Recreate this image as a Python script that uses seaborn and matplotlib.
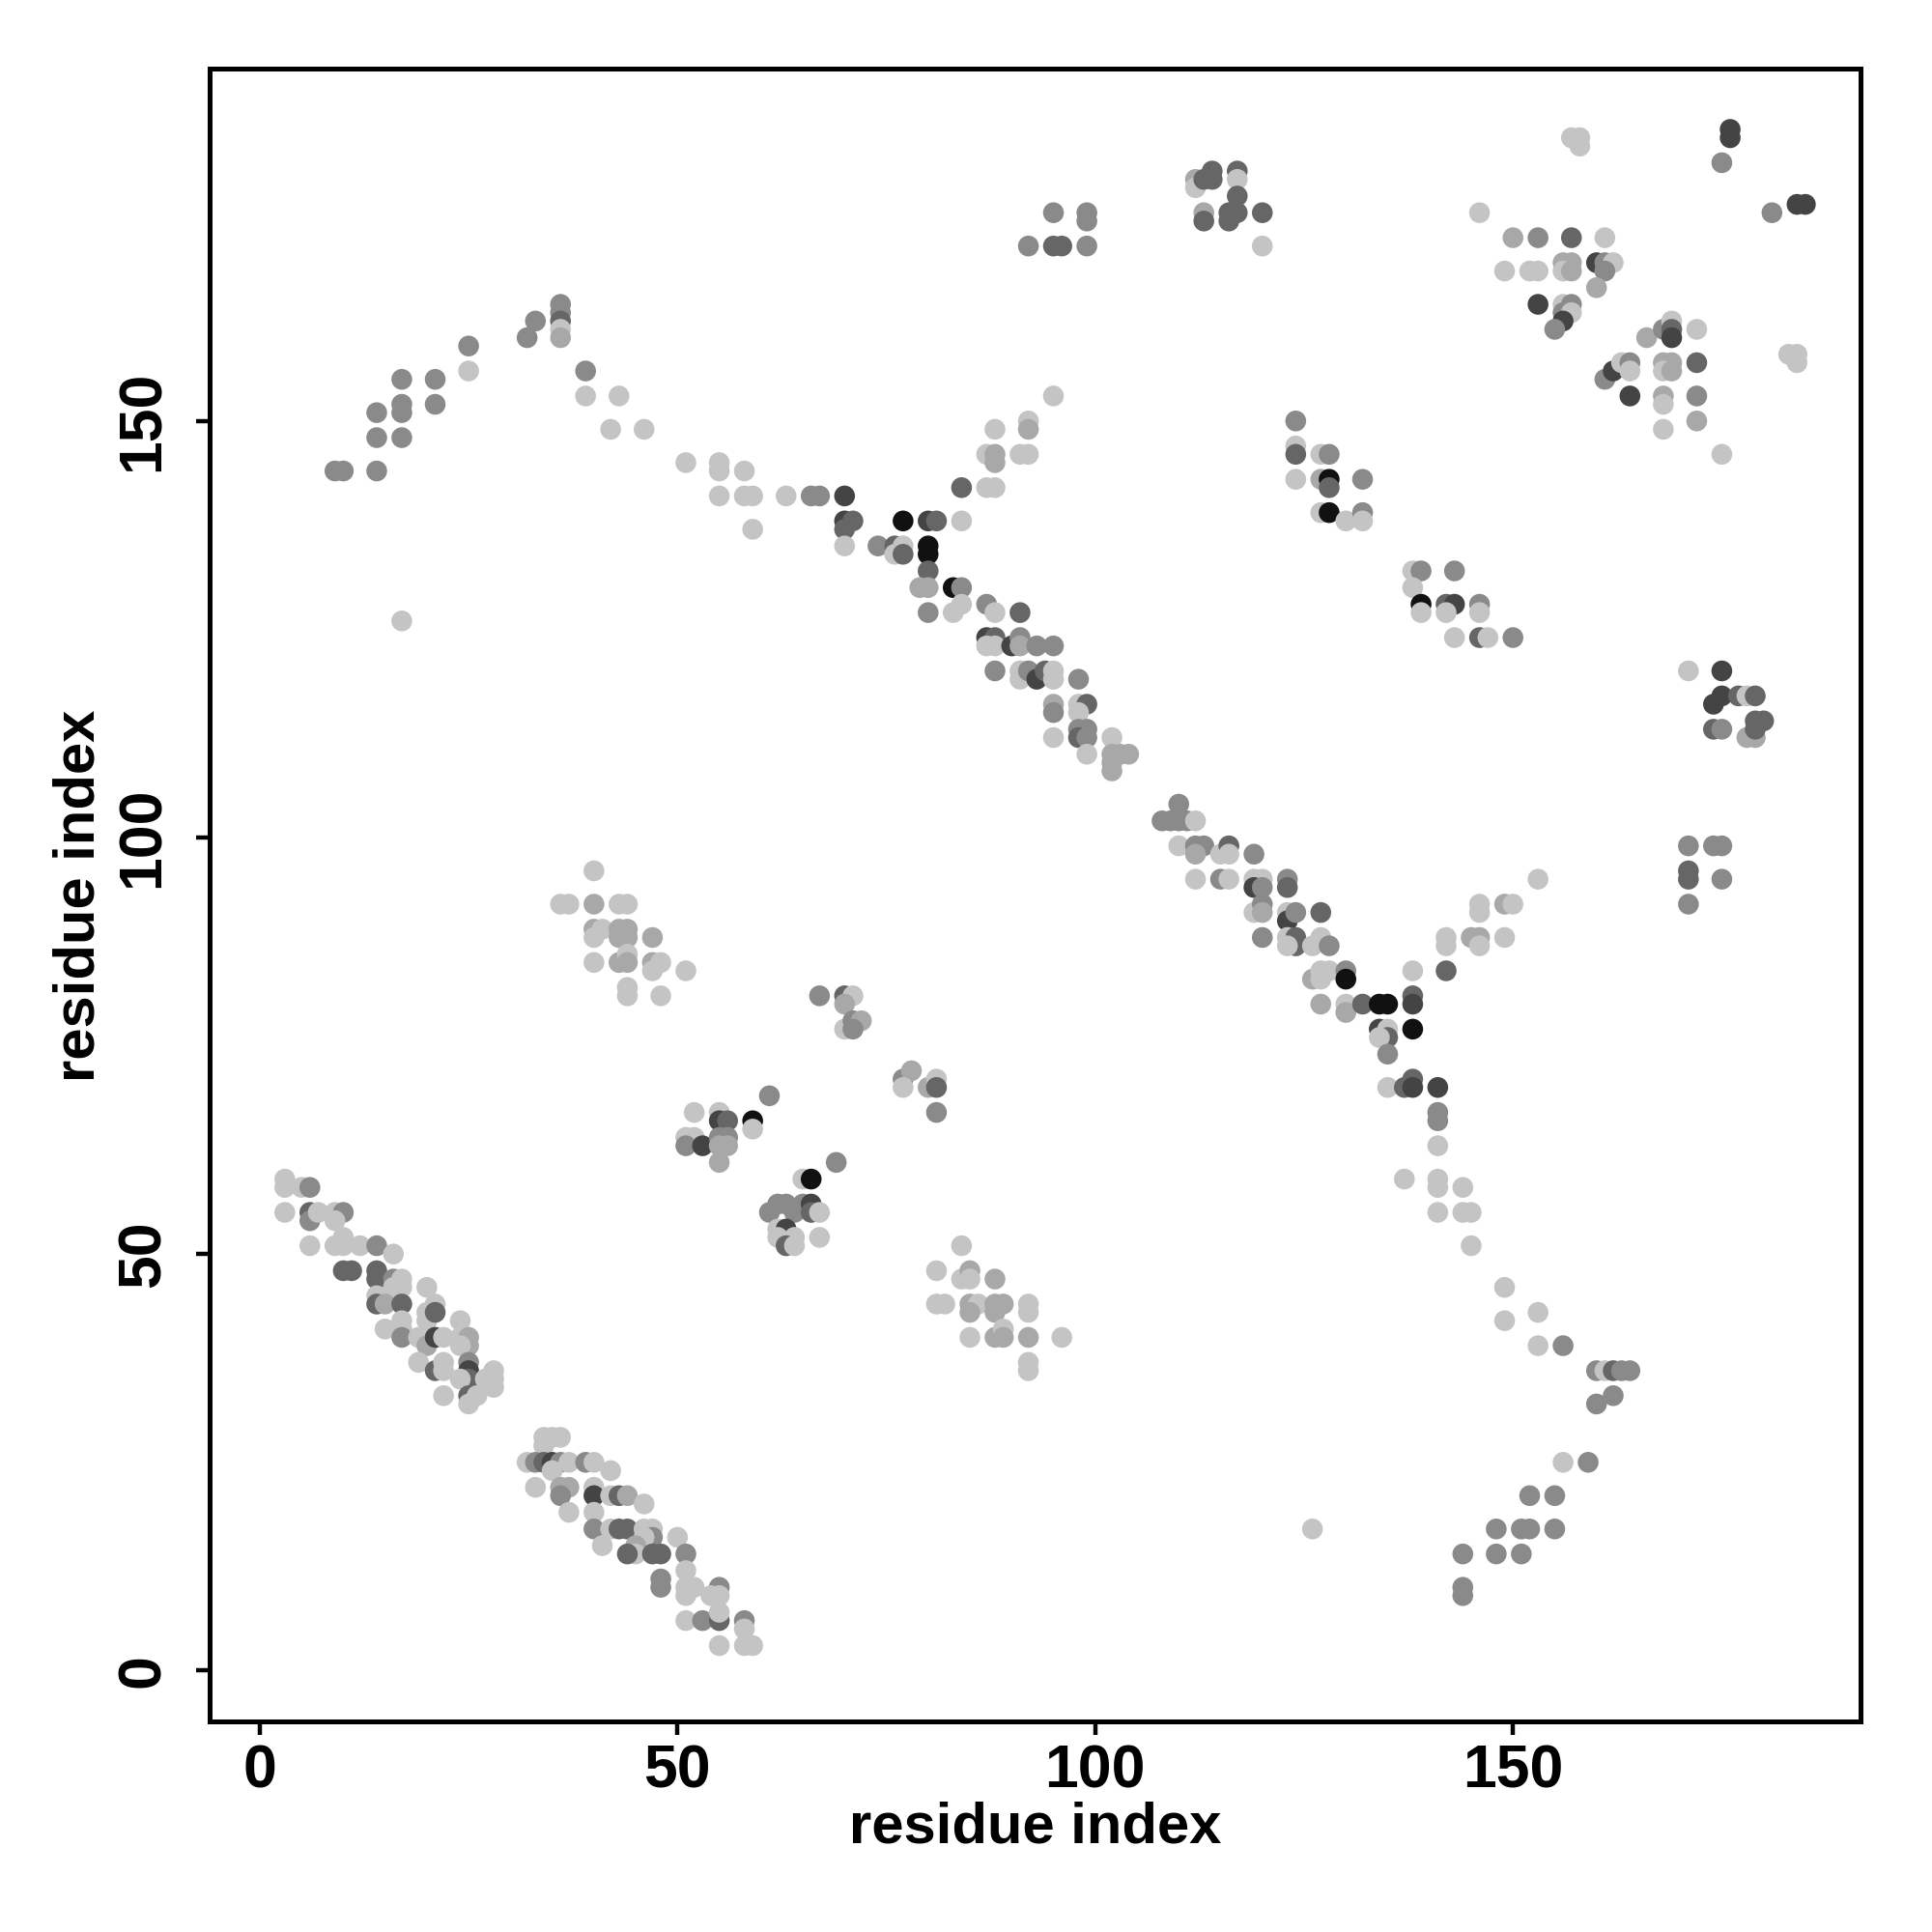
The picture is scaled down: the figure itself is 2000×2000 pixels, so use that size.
import pandas as pd
import numpy as np
import matplotlib
matplotlib.use('Agg')
import matplotlib.pyplot as plt
import seaborn as sns

sns.set_style("white")
plt.rcParams['font.family'] = ['Liberation Sans', 'DejaVu Sans']
plt.rcParams['text.color'] = 'black'
plt.rcParams['xtick.color'] = 'black'
plt.rcParams['ytick.color'] = 'black'

# contacts as (residue i, residue j, shade level 0 = light ... 5 = black)
left_band = [
    (9, 144, 2), (10, 144, 2), (14, 144, 2), (14, 148, 2), (17, 148, 2), (14, 151, 2),
    (17, 151, 2), (17, 152, 2), (21, 152, 2), (17, 155, 2), (21, 155, 2), (25, 156, 0),
    (25, 159, 2), (32, 160, 2), (33, 162, 2), (36, 164, 2), (36, 163, 2), (36, 162, 3),
    (36, 161, 0), (36, 160, 1), (39, 156, 2), (39, 153, 0), (43, 153, 0), (42, 149, 0),
    (46, 149, 0), (17, 126, 0),
]
upper_diag = [
    (51, 145, 0), (55, 145, 0), (55, 144, 0), (58, 144, 0), (55, 141, 0), (58, 141, 0),
    (59, 141, 0), (59, 137, 0), (63, 141, 0), (66, 141, 2), (67, 141, 2), (70, 141, 4),
    (70, 138, 4), (71, 138, 3), (70, 137, 3), (70, 135, 0), (77, 138, 5), (80, 138, 4),
    (81, 138, 3), (84, 138, 0), (84, 142, 3), (74, 135, 2), (76, 135, 3), (77, 135, 0),
    (76, 134, 0), (77, 134, 3), (80, 135, 5), (80, 134, 5), (80, 132, 3), (79, 130, 1),
    (80, 130, 1), (83, 130, 5), (84, 130, 2), (80, 127, 2), (83, 127, 0), (84, 128, 0),
    (87, 128, 2), (88, 127, 0), (91, 127, 3),
]
rising_mid = [
    (88, 149, 0), (92, 150, 0), (92, 149, 1), (87, 146, 0), (88, 146, 1), (88, 145, 1),
    (91, 146, 0), (92, 146, 0), (87, 142, 0), (88, 142, 0), (95, 153, 0),
]
main_diag_a = [
    (87, 124, 4), (88, 124, 3), (87, 123, 0), (88, 123, 0), (90, 123, 4), (91, 124, 2),
    (91, 123, 1), (93, 123, 2), (95, 123, 2), (88, 120, 2), (91, 120, 0), (91, 119, 0),
    (92, 120, 2), (93, 119, 4), (94, 120, 3), (95, 120, 0), (95, 119, 0), (98, 119, 2),
    (95, 116, 1), (95, 115, 2), (98, 116, 0), (99, 116, 3), (98, 115, 0), (95, 112, 0),
    (98, 113, 2), (99, 113, 2), (98, 112, 3), (99, 112, 2), (99, 110, 0), (102, 112, 0),
    (102, 110, 1), (102, 109, 1), (102, 108, 1), (103, 110, 1), (104, 110, 1),
]
main_diag_b = [
    (108, 102, 2), (109, 102, 2), (110, 104, 2), (110, 102, 2), (111, 102, 2), (112, 102, 0),
    (110, 99, 0), (112, 99, 2), (113, 99, 2), (112, 98, 1), (115, 98, 0), (116, 99, 3),
    (116, 98, 0), (119, 98, 2), (112, 95, 0), (115, 95, 2), (116, 95, 0), (119, 95, 0),
    (120, 95, 0), (119, 94, 4), (120, 94, 2), (123, 95, 2), (123, 94, 3), (119, 91, 0),
    (120, 92, 2), (120, 91, 1), (123, 91, 0), (123, 90, 4), (124, 91, 2), (127, 91, 3),
    (120, 88, 2), (123, 88, 0), (124, 88, 3), (124, 87, 3), (123, 87, 0), (126, 87, 0),
    (127, 88, 0), (128, 87, 2), (126, 83, 1), (127, 84, 0), (128, 84, 0), (127, 83, 0),
    (130, 84, 2), (130, 83, 5),
]
main_diag_c = [
    (127, 80, 1), (130, 80, 0), (130, 79, 1), (132, 80, 3), (134, 80, 5), (135, 80, 5),
    (138, 81, 3), (138, 80, 4), (138, 84, 0), (142, 88, 0), (142, 87, 0), (142, 84, 3),
    (134, 77, 4), (135, 77, 0), (135, 76, 3), (134, 76, 0), (138, 77, 5), (135, 74, 2),
    (135, 70, 0), (137, 70, 3), (138, 71, 3), (138, 70, 4), (141, 70, 4), (141, 67, 2),
    (141, 66, 2), (141, 63, 0),
]
rising_right = [
    (145, 88, 1), (146, 88, 1), (146, 87, 0), (149, 88, 0), (146, 92, 0), (146, 91, 0),
    (149, 92, 1), (150, 92, 0), (153, 95, 0),
]
lower_right = [
    (137, 59, 0), (141, 59, 0), (141, 58, 0), (141, 55, 0), (144, 58, 0), (144, 55, 0),
    (145, 55, 0), (145, 51, 0), (149, 46, 0), (149, 42, 0), (153, 43, 0), (153, 39, 0),
    (156, 39, 2), (160, 36, 2), (161, 36, 0), (162, 36, 3), (163, 36, 2), (164, 36, 2),
    (160, 32, 2), (162, 33, 2), (156, 25, 0), (159, 25, 2), (152, 21, 2), (155, 21, 2),
    (148, 17, 2), (151, 17, 2), (152, 17, 2), (155, 17, 2), (144, 14, 2), (148, 14, 2),
    (151, 14, 2), (144, 10, 2), (144, 9, 2), (126, 17, 0),
]
block_124_140 = [
    (124, 150, 2), (124, 147, 0), (124, 146, 3), (127, 146, 0), (128, 146, 2), (124, 143, 0),
    (127, 143, 1), (128, 143, 5), (128, 142, 3), (132, 143, 2), (127, 139, 0), (128, 139, 5),
    (130, 138, 0), (132, 139, 2), (132, 138, 0),
]
block_140_128 = [
    (138, 132, 0), (139, 132, 2), (143, 132, 2), (138, 130, 0), (139, 128, 5), (142, 128, 3),
    (143, 128, 4), (139, 127, 0), (142, 127, 0), (146, 128, 2), (146, 127, 0), (143, 124, 0),
    (146, 124, 3), (147, 124, 0), (150, 124, 2),
]
top_blocks = [
    (92, 171, 2), (95, 171, 3), (96, 171, 3), (99, 171, 2), (95, 175, 2), (99, 175, 2),
    (99, 174, 2), (112, 179, 1), (112, 178, 0), (113, 179, 3), (114, 180, 3), (114, 179, 3),
    (117, 180, 3), (117, 179, 0), (117, 177, 3), (113, 175, 1), (113, 174, 3), (116, 175, 3),
    (116, 174, 3), (117, 175, 3), (120, 175, 3), (120, 171, 0),
]
top_right = [
    (146, 175, 0), (150, 172, 1), (153, 172, 2), (157, 172, 3), (161, 172, 0), (149, 168, 0),
    (152, 168, 0), (153, 168, 0), (156, 169, 1), (157, 169, 1), (156, 168, 0), (157, 168, 1),
    (160, 169, 4), (161, 169, 2), (162, 169, 0), (161, 168, 2), (160, 166, 1), (153, 164, 4),
    (156, 164, 0), (157, 164, 2), (156, 163, 2), (157, 163, 0), (156, 162, 4), (155, 161, 2),
    (166, 160, 1), (168, 161, 2), (169, 162, 0), (169, 161, 3), (169, 160, 4), (172, 161, 0),
    (161, 155, 2), (162, 156, 4), (163, 157, 0), (164, 157, 2), (164, 156, 0), (164, 153, 4),
    (168, 157, 1), (169, 157, 1), (168, 156, 0), (169, 156, 1), (172, 157, 3), (168, 153, 1),
    (168, 152, 0), (172, 153, 2), (168, 149, 0), (172, 150, 1), (175, 146, 0),
]
far_corner = [
    (157, 184, 0), (158, 184, 0), (158, 183, 0), (176, 185, 4), (176, 184, 4), (175, 181, 2),
    (181, 175, 2), (184, 176, 4), (185, 176, 4), (183, 158, 0), (184, 158, 0), (184, 157, 0),
]
right_blocks = [
    (171, 120, 0), (175, 120, 4), (174, 116, 4), (175, 117, 4), (177, 117, 3), (178, 117, 0),
    (179, 117, 3), (174, 113, 3), (175, 113, 2), (178, 112, 1), (179, 112, 1), (179, 114, 3),
    (180, 114, 3), (179, 113, 3), (171, 99, 2), (174, 99, 2), (175, 99, 2), (171, 96, 3),
    (171, 95, 3), (175, 95, 2), (171, 92, 2),
]
mid_left = [
    (40, 96, 0), (36, 92, 0), (37, 92, 0), (40, 92, 1), (43, 92, 0), (44, 92, 0),
    (40, 89, 1), (41, 89, 0), (40, 88, 0), (43, 89, 1), (43, 88, 1), (44, 89, 1),
    (44, 88, 1), (47, 88, 1), (40, 85, 0), (43, 85, 1), (44, 86, 0), (44, 85, 1),
    (47, 85, 1), (48, 85, 0), (47, 84, 0), (51, 84, 0), (44, 82, 0), (44, 81, 0), (48, 81, 0),
]
mid_centre = [
    (61, 69, 2), (52, 67, 0), (55, 67, 0), (55, 66, 4), (56, 66, 3), (59, 66, 5),
    (59, 65, 0), (51, 64, 0), (52, 64, 0), (51, 63, 2), (53, 63, 4), (55, 64, 2),
    (56, 64, 2), (55, 63, 1), (56, 63, 1), (55, 61, 1), (69, 61, 2), (65, 59, 0),
    (66, 59, 5), (61, 55, 2), (62, 56, 2), (63, 56, 2), (64, 55, 2), (65, 56, 2),
    (66, 56, 4), (66, 55, 3), (67, 55, 0), (62, 53, 0), (63, 53, 4), (62, 52, 0),
    (64, 52, 0), (63, 51, 3), (64, 51, 0), (67, 52, 0), (67, 81, 2), (70, 81, 3),
    (71, 81, 0), (70, 80, 1), (70, 77, 0), (71, 78, 2), (72, 78, 1), (71, 77, 2),
    (77, 71, 2), (78, 72, 1), (77, 70, 0), (80, 70, 1), (81, 71, 0), (81, 70, 3), (81, 67, 2),
]
mid_lower = [
    (84, 51, 0), (81, 48, 0), (84, 47, 0), (85, 48, 1), (85, 47, 0), (88, 47, 1),
    (81, 44, 0), (82, 44, 0), (85, 44, 1), (86, 44, 0), (85, 43, 1), (88, 44, 1),
    (89, 44, 1), (88, 43, 1), (92, 44, 0), (92, 43, 0), (85, 40, 0), (88, 40, 1),
    (89, 41, 0), (89, 40, 1), (92, 40, 1), (92, 37, 0), (92, 36, 0), (96, 40, 0),
]
left_diag_1 = [
    (3, 59, 0), (3, 58, 0), (5, 58, 0), (6, 58, 2), (3, 55, 0), (6, 55, 3), (6, 54, 2),
    (7, 55, 0), (9, 55, 0), (10, 55, 2), (9, 54, 0), (6, 51, 0), (9, 51, 0), (10, 52, 0),
    (10, 51, 0), (12, 51, 0), (14, 51, 2), (16, 50, 0), (10, 48, 3), (11, 48, 3), (14, 48, 3),
    (14, 47, 3), (16, 47, 2), (17, 47, 0), (17, 46, 0), (16, 46, 0), (20, 46, 0), (14, 45, 0),
    (14, 44, 3), (15, 44, 1), (17, 44, 3), (17, 42, 0), (17, 41, 0), (15, 41, 0), (20, 43, 0),
    (20, 42, 0), (21, 44, 0), (21, 43, 3), (17, 40, 2), (19, 40, 0), (20, 39, 1), (21, 40, 4),
    (22, 40, 0), (24, 42, 0), (24, 40, 0), (25, 40, 1), (25, 39, 1), (24, 39, 0), (19, 37, 0),
    (21, 36, 3), (22, 37, 0), (22, 36, 0), (25, 37, 2), (25, 36, 4), (25, 35, 3), (24, 35, 0),
    (27, 35, 0), (28, 36, 0), (28, 35, 0), (28, 34, 0), (22, 33, 0), (25, 33, 3), (25, 32, 0),
    (26, 33, 0),
]
left_diag_2 = [
    (34, 28, 0), (35, 28, 0), (36, 28, 0), (34, 27, 0), (32, 25, 0), (33, 25, 2), (34, 25, 3),
    (35, 25, 4), (36, 25, 2), (37, 25, 0), (35, 24, 0), (33, 22, 0), (36, 22, 1), (37, 22, 1),
    (36, 21, 2), (39, 25, 2), (40, 25, 0), (40, 22, 0), (40, 21, 4), (37, 19, 0), (40, 19, 0),
    (42, 24, 0), (42, 21, 0), (43, 21, 3), (40, 17, 2), (42, 17, 0), (43, 17, 3), (41, 15, 0),
    (44, 21, 1), (46, 20, 0), (44, 17, 3), (46, 17, 0), (47, 17, 0), (47, 16, 2), (46, 16, 0),
    (45, 15, 1), (45, 14, 0), (47, 14, 3), (48, 14, 3), (44, 14, 3), (50, 16, 0), (51, 14, 2),
    (51, 12, 0), (48, 11, 2), (48, 10, 2), (51, 10, 0), (52, 10, 0), (51, 9, 0), (55, 10, 2),
    (54, 9, 0), (55, 9, 0), (51, 6, 0), (53, 6, 2), (55, 6, 3), (55, 7, 0), (58, 6, 2),
    (58, 5, 0), (55, 3, 0), (58, 3, 0), (59, 3, 0),
]

shade_colors = {0: '#c4c4c4', 1: '#a8a8a8', 2: '#8a8a8a', 3: '#666666', 4: '#444444', 5: '#111111'}
x_ticks = [0, 50, 100, 150]
y_ticks = [0, 50, 100, 150]

groups = [left_band, upper_diag, rising_mid, main_diag_a, main_diag_b, main_diag_c,
          rising_right, lower_right, block_124_140, block_140_128, top_blocks, top_right,
          far_corner, right_blocks, mid_left, mid_centre, mid_lower, left_diag_1, left_diag_2]
df = pd.DataFrame([p for g in groups for p in g], columns=['i', 'j', 'shade'])

fig = plt.figure(figsize=(10, 10), dpi=200)
ax = fig.add_axes([0.1085, 0.109, 0.963 - 0.1085, 0.9645 - 0.109])

sns.scatterplot(data=df, x='i', y='j', hue='shade', palette=shade_colors,
                s=60, linewidth=0, legend=False, ax=ax)

ax.set_xlim(-6.0, 191.6)
ax.set_ylim(-6.1, 192.3)
ax.set_xticks(x_ticks)
ax.set_yticks(y_ticks)
ax.set_xlabel('')
ax.set_ylabel('')
for side in ax.spines.values():
    side.set_linewidth(1.8)
    side.set_color('black')
ax.tick_params(axis='both', direction='out', length=5, width=1.6, color='black',
               labelcolor='black', labelsize=22.5, bottom=True, left=True)
ax.tick_params(axis='x', pad=3)
ax.tick_params(axis='y', pad=9)
for lab in ax.get_xticklabels() + ax.get_yticklabels():
    lab.set_fontweight('bold')
for lab in ax.get_yticklabels():
    lab.set_rotation(90)
    lab.set_va('center')

fig.text(0.536, 1 - 1892 / 2000, 'residue index', ha='center', va='center',
         fontsize=21.5, fontweight='bold', color='black')
fig.text(82 / 2000, 0.5365, 'residue index', ha='center', va='center',
         rotation=90, fontsize=21.5, fontweight='bold', color='black')

fig.savefig('out.png', dpi=200, facecolor='white')
